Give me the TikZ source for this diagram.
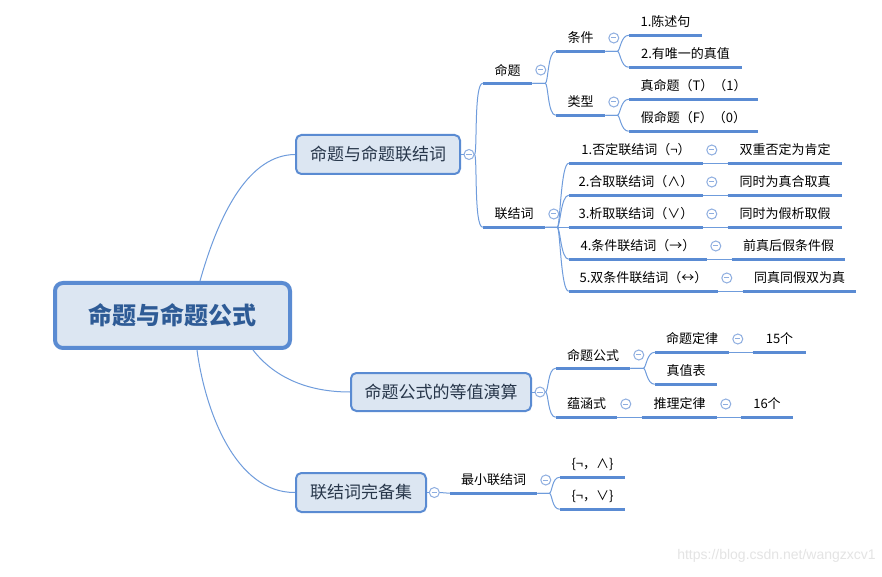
\documentclass[tikz,border=0pt]{standalone}
\usepackage{fontspec}
\setmainfont{Noto Sans CJK SC}
\newfontfamily\wmfont{Liberation Sans}
\usetikzlibrary{calc}
\definecolor{boxfill}{HTML}{DCE6F2}
\definecolor{boxline}{HTML}{5A8BD2}
\definecolor{ulinec}{HTML}{5A8BD3}
\definecolor{connc}{HTML}{6F9CDC}
\definecolor{collc}{HTML}{8EAEE0}
\definecolor{roottext}{HTML}{2E5B96}
\definecolor{lonetext}{HTML}{27364A}
\definecolor{wmc}{HTML}{E4E4E4}
\tikzset{
  topic/.style={inner sep=0pt, minimum height=19.5pt, font=\fontsize{9.75pt}{11pt}\selectfont, text=black},
  tw/.style={minimum width=#1*0.75pt},
  lonebox/.style={draw=boxline, line width=1.5pt, fill=boxfill, rounded corners=4pt, inner sep=0pt,
    font=\fontsize{12.75pt}{15pt}\selectfont, text=lonetext},
  rootbox/.style={draw=boxline, line width=3pt, fill=boxfill, rounded corners=6pt, inner sep=0pt,
    font=\fontsize{18pt}{21pt}\selectfont\bfseries, text=roottext},
  coll/.style={circle, draw=collc, line width=0.75pt, fill=white, minimum size=7.5pt, inner sep=0pt,
    path picture={\draw[collc, line width=0.75pt] ([xshift=-2pt]path picture bounding box.center) -- ([xshift=2pt]path picture bounding box.center);}},
  uline/.style={draw=ulinec, line width=2pt},
  conn/.style={draw=connc, line width=0.75pt},
  wm/.style={font=\wmfont\fontsize{10.5pt}{12pt}\selectfont, text=wmc, inner sep=0pt}
}
\begin{document}
\begin{tikzpicture}[x=0.75pt,y=-0.75pt]
\useasboundingbox[fill=white] (0,0) rectangle (882,577);

% boxes
\node[rootbox, minimum width=235*0.75pt, minimum height=65*0.75pt] (root) at (172.5,315.5) {命题与命题公式};
\node[lonebox, minimum width=164*0.75pt, minimum height=39*0.75pt] (b1) at (378,154.5) {命题与命题联结词};
\node[lonebox, minimum width=180*0.75pt, minimum height=38*0.75pt] (b2) at (441,392) {命题公式的等值演算};
\node[lonebox, minimum width=130*0.75pt, minimum height=39*0.75pt] (b3) at (361,492.5) {联结词完备集};

% topics
\node[topic, tw=49] (mt) at (507.5,70) {命题};
\node[topic, tw=62] (ljc) at (514,214) {联结词};
\node[topic, tw=49] (tj) at (580.5,38) {条件};
\node[topic, tw=49] (lx) at (580.5,102) {类型};
\node[topic, tw=73] (c1) at (665.5,22) {1.陈述句};
\node[topic, tw=113] (c2) at (685.5,54) {2.有唯一的真值};
\node[topic, tw=129] (t1) at (693.5,86) {真命题（T）（1）};
\node[topic, tw=129] (t2) at (693.5,118) {假命题（F）（0）};
\node[topic, tw=134] (l1) at (636,150) {1.否定联结词（¬）};
\node[topic, tw=134] (l2) at (636,182) {2.合取联结词（∧）};
\node[topic, tw=134] (l3) at (636,214) {3.析取联结词（∨）};
\node[topic, tw=138] (l4) at (638,246) {4.条件联结词（→）};
\node[topic, tw=149] (l5) at (643.5,278) {5.双条件联结词（↔）};
\node[topic, tw=114] (r1) at (785,150) {双重否定为肯定};
\node[topic, tw=114] (r2) at (785,182) {同时为真合取真};
\node[topic, tw=114] (r3) at (785,214) {同时为假析取假};
\node[topic, tw=113] (r4) at (788.5,246) {前真后假条件假};
\node[topic, tw=113] (r5) at (799.5,278) {同真同假双为真};
\node[topic, tw=74] (gs) at (593,355) {命题公式};
\node[topic, tw=61] (yhs) at (586.5,404) {蕴涵式};
\node[topic, tw=74] (dl) at (692,339) {命题定律};
\node[topic, tw=62] (zzb) at (686,371) {真值表};
\node[topic, tw=53] (n15) at (779.5,339) {15个};
\node[topic, tw=75] (tl) at (679.5,404) {推理定律};
\node[topic, tw=52] (n16) at (767,404) {16个};
\node[topic, tw=87] (zx) at (493.5,480) {最小联结词};
\node[topic, tw=65] (s1) at (592.5,464) {\{¬，∧\}};
\node[topic, tw=65] (s2) at (592.5,496) {\{¬，∨\}};

% underlines
\foreach \n in {mt,ljc,tj,lx,c1,c2,t1,t2,l1,l2,l3,l4,l5,r1,r2,r3,r4,r5,gs,yhs,dl,zzb,n15,tl,n16,zx,s1,s2}
  \draw[uline] (\n.south west) -- (\n.south east);

% root connectors
\draw[conn] ($(root.north)+(27.5,0)$) .. controls (220,210) and (250,155) .. (b1.west);
\draw[conn] ($(root.south)+(80.5,0)$) .. controls (270,372) and (300,392) .. (b2.west);
\draw[conn] ($(root.south)+(24.5,0)$) .. controls (205,410) and (235,493) .. (b3.west);

% collapse circles
\node[coll] (o1) at ([xshift=6pt]b1.east) {};
\node[coll] (o2) at ([xshift=6pt]b2.east) {};
\node[coll] (o3) at ([xshift=5.5pt]b3.east) {};
\foreach \n in {mt,ljc,tj,lx,l1,l2,l3,l4,l5,gs,yhs,dl,tl,zx}
  \node[coll] (o\n) at ([xshift=6.4pt]\n.east) {};

% level-1 connectors
\draw[conn] (b1.east) -- (o1.west);
\foreach \c in {mt,ljc}
  \draw[conn] (o1.east) .. controls +(3,0) and +(-9,0) .. (\c.south west);
\draw[conn] (b2.east) -- (o2.west);
\foreach \c in {gs,yhs}
  \draw[conn] (o2.east) .. controls +(3,0) and +(-8,0) .. (\c.south west);
\draw[conn] (b3.east) -- (o3.west);
\draw[conn] (o3.east) -- (zx.south west);

% forks
\foreach \c in {tj,lx}
  \draw[conn] (mt.south east) -- ++(13,0) .. controls +(3,0) and +(-8,0) .. (\c.south west);
\foreach \c in {c1,c2}
  \draw[conn] (tj.south east) -- ++(12,0) .. controls +(3,0) and +(-8,0) .. (\c.south west);
\foreach \c in {t1,t2}
  \draw[conn] (lx.south east) -- ++(12,0) .. controls +(3,0) and +(-8,0) .. (\c.south west);
\foreach \c in {l1,l2,l3,l4,l5}
  \draw[conn] (ljc.south east) -- ++(12,0) .. controls +(3,0) and +(-8,0) .. (\c.south west);
\foreach \c in {dl,zzb}
  \draw[conn] (gs.south east) -- ++(13,0) .. controls +(3,0) and +(-8,0) .. (\c.south west);
\foreach \c in {s1,s2}
  \draw[conn] (zx.south east) -- ++(12,0) .. controls +(3,0) and +(-8,0) .. (\c.south west);

% straight links
\draw[conn] (l1.south east) -- (r1.south west);
\draw[conn] (l2.south east) -- (r2.south west);
\draw[conn] (l3.south east) -- (r3.south west);
\draw[conn] (l4.south east) -- (r4.south west);
\draw[conn] (l5.south east) -- (r5.south west);
\draw[conn] (dl.south east) -- (n15.south west);
\draw[conn] (yhs.south east) -- (tl.south west);
\draw[conn] (tl.south east) -- (n16.south west);

% watermark
\node[wm, anchor=east] (wmark) at (876,556) {https://blog.csdn.net/wangzxcv1};
\end{tikzpicture}
\end{document}
